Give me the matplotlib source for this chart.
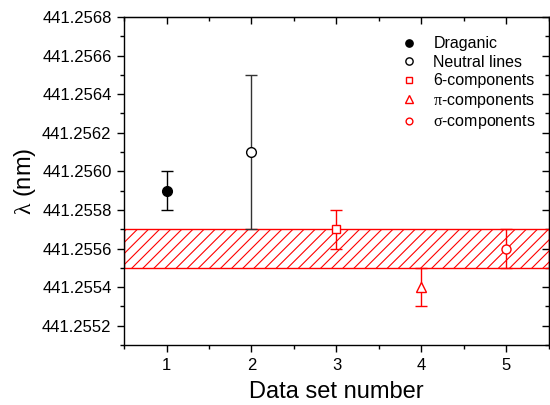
import matplotlib
matplotlib.use("Agg")
import matplotlib.pyplot as plt
from matplotlib.ticker import FormatStrFormatter, MultipleLocator

plt.rcParams["font.family"] = ["Liberation Sans", "DejaVu Sans"]
plt.rcParams["mathtext.fontset"] = "custom"
plt.rcParams["mathtext.rm"] = "Liberation Serif"
plt.rcParams["mathtext.it"] = "Liberation Serif"
plt.rcParams["hatch.linewidth"] = 0.8

# data sets: value and error
set_number = [1, 2, 3, 4, 5]
wavelength = [441.2559, 441.2561, 441.2557, 441.2554, 441.2556]
wavelength_err = [0.0001, 0.0004, 0.0001, 0.0001, 0.0001]
labels = ["Draganic", "Neutral lines", "6-components",
          r"$\mathrm{\pi}$-components", r"$\mathrm{\sigma}$-components"]
band_low, band_high = 441.2555, 441.2557

styles = [
    dict(marker="o", mfc="black", mec="black", ms=7, color="black"),
    dict(marker="o", mfc="white", mec="black", ms=7, color="#333333"),
    dict(marker="s", mfc="white", mec="red", ms=5.5, color="red"),
    dict(marker="^", mfc="white", mec="red", ms=7, color="red"),
    dict(marker="o", mfc="white", mec="red", ms=6.5, color="red"),
]

fig = plt.figure(figsize=(5.5, 4.05), dpi=100)
ax = fig.add_axes([0.2255, 0.148, 0.7725, 0.81])

ax.axhspan(band_low, band_high, facecolor="none", edgecolor="red",
           hatch="///", linewidth=1.0, zorder=1)

for x, y, e, lab, st in zip(set_number, wavelength, wavelength_err, labels, styles):
    color = st.pop("color")
    ax.errorbar([x], [y], yerr=[e], fmt=st.pop("marker"), ecolor=color,
                elinewidth=1.0, capsize=4.5, capthick=1.0, mew=1.0,
                label=lab, zorder=3, **st)

ax.set_xlim(0.5, 5.5)
ax.set_ylim(441.2551, 441.2568)
ax.xaxis.set_major_locator(MultipleLocator(1))
ax.xaxis.set_minor_locator(MultipleLocator(0.5))
ax.yaxis.set_major_locator(MultipleLocator(0.0002))
ax.yaxis.set_minor_locator(MultipleLocator(0.0001))
ax.yaxis.set_major_formatter(FormatStrFormatter("%.4f"))

ax.tick_params(which="both", direction="out", labelsize=12, width=1.0)
ax.tick_params(which="major", length=5, pad=4)
ax.tick_params(which="minor", length=3)
for sp in ax.spines.values():
    sp.set_linewidth(1.0)

top = ax.secondary_xaxis("top")
top.xaxis.set_major_locator(MultipleLocator(1))
top.xaxis.set_minor_locator(MultipleLocator(0.5))
top.tick_params(which="both", direction="in", labeltop=False, width=1.0)
top.tick_params(which="major", length=5)
top.tick_params(which="minor", length=3)
right = ax.secondary_yaxis("right")
right.yaxis.set_major_locator(MultipleLocator(0.0002))
right.yaxis.set_minor_locator(MultipleLocator(0.0001))
right.tick_params(which="both", direction="in", labelright=False, width=1.0)
right.tick_params(which="major", length=5)
right.tick_params(which="minor", length=3)

ax.set_xlabel("Data set number", fontsize=17, labelpad=6)
ax.set_ylabel(r"$\mathrm{\lambda}$ (nm)", fontsize=17, labelpad=3)

handles, labs = ax.get_legend_handles_labels()
handles = [h[0] for h in handles]
ax.legend(handles, labs, loc="upper right", bbox_to_anchor=(1.003, 0.985),
          frameon=False, fontsize=11.5, handletextpad=0.9, labelspacing=0.22,
          handlelength=1.2, markerscale=0.75)

fig.savefig("out.png", dpi=100)
